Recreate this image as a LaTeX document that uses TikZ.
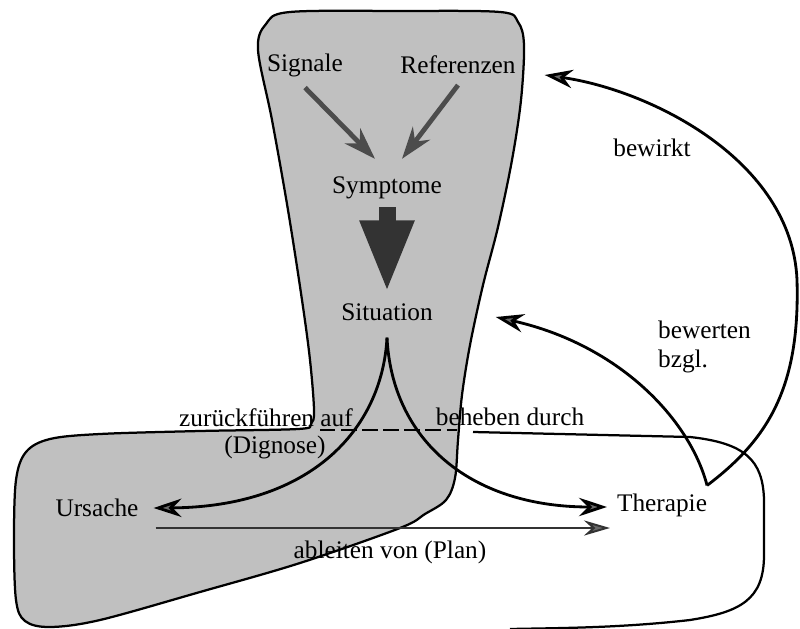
\documentclass[tikz,border=0pt]{standalone}
\usepackage{fontspec}
\setmainfont{Liberation Serif}
\usepackage{tikz}
\usetikzlibrary{arrows.meta,calc}
\definecolor{dotgray}{HTML}{C0C0C0}
\definecolor{tipgray}{HTML}{6A6A6A}

\begin{document}
\begin{tikzpicture}[
 x=0.025cm,y=-0.025cm,
 every node/.style={font=\fontsize{18}{20.5}\selectfont,inner sep=2pt},
 region/.style={draw=black,line width=1.6pt,line join=round},
 curve/.style={line width=2pt,-{Stealth[length=7mm,width=4.6mm,fill=tipgray]}},
 grayarrow/.style={draw=black!70,line width=3.4pt,-{Stealth[length=8mm,width=5.4mm,fill=tipgray]}},
 planarrow/.style={draw=black!80,line width=1.4pt,-{Stealth[length=6.5mm,width=3.8mm,fill=tipgray]}},
 bigarrow/.style={draw=black!80,line width=0.425cm,-{Triangle[length=1.8cm,width=1.25cm]}}
]
\useasboundingbox (0,0) rectangle (800,629);
\draw[region,fill=dotgray] plot[smooth cycle,tension=0.55] coordinates {
 (258,50) (266,24) (290,12) (400,11) (500,12) (518,22) (524,45) (521,100)
 (512,160) (498,227) (483,285) (470,345) (462,395) (458,440) (455,478)
 (446,500) (425,514) (400,528) (300,563) (200,592) (100,620) (50,627)
 (25,621) (16,600) (14,540) (16,480) (26,452) (50,439) (100,434) (200,431)
 (298,429) (311,424) (314,410) (310,360) (302,300) (288,210) (272,120)};
\draw[line width=1.6pt,dash pattern=on 11pt off 4pt] (320,430) -- (457,430);
\draw[region] (473,432) -- (690,437) .. controls (745,443) and (763,460) .. (764,500)
 -- (764,555) .. controls (764,600) and (740,612) .. (690,620)
 .. controls (620,628) and (560,628) .. (510,629);

\node (sig) at (305,65) {Signale};
\node (ref) at (458,65) {Referenzen};
\node (sym) at (387,188) {Symptome};
\node (sit) at (387,312) {Situation};
\node (urs) at (97,508) {Ursache};
\node (ther) at (662,505) {Therapie};
\node (bewirkt) at (652,148) {bewirkt};
\node[align=left,anchor=west] (bewerten) at (655,347) {bewerten\\bzgl.};
\node (zurueck) at (266,418) {zurückführen auf};
\node (diag) at (275,447) {(Dignose)};
\node (beheben) at (510,417) {beheben durch};
\node (ableiten) at (390,552) {ableiten von (Plan)};

\draw[grayarrow] ($(sig.south)+(0,8)$) -- ($(sym.north)+(-12,-15)$);
\draw[grayarrow] ($(ref.south)+(0,8)$) -- ($(sym.north)+(15,-15)$);
\draw[bigarrow] ($(sym.south)+(0,5)$) -- ($(sit.north)+(0,-8)$);
\draw[curve] ($(sit.south)+(0,14)$) .. controls (382,430) and (310,507) .. ($(urs.east)+(12,0)$);
\draw[curve] ($(sit.south)+(0,14)$) .. controls (392,440) and (470,507) .. ($(ther.west)+(-7,2)$);
\draw[planarrow] ($(urs.east)+(14,20)$) -- ($(ther.west)+(-4,23)$);
\draw[curve] ($(ther.north east)+(-3,-5)$) .. controls (690,420) and (620,345) .. ($(sit.east)+(60,5)$);
\draw[curve] ($(ther.north east)+(-3,-5)$) .. controls (770,438) and (800,385) .. (797,280)
 .. controls (792,160) and (650,90) .. ($(ref.east)+(26,10)$);
\end{tikzpicture}
\end{document}
